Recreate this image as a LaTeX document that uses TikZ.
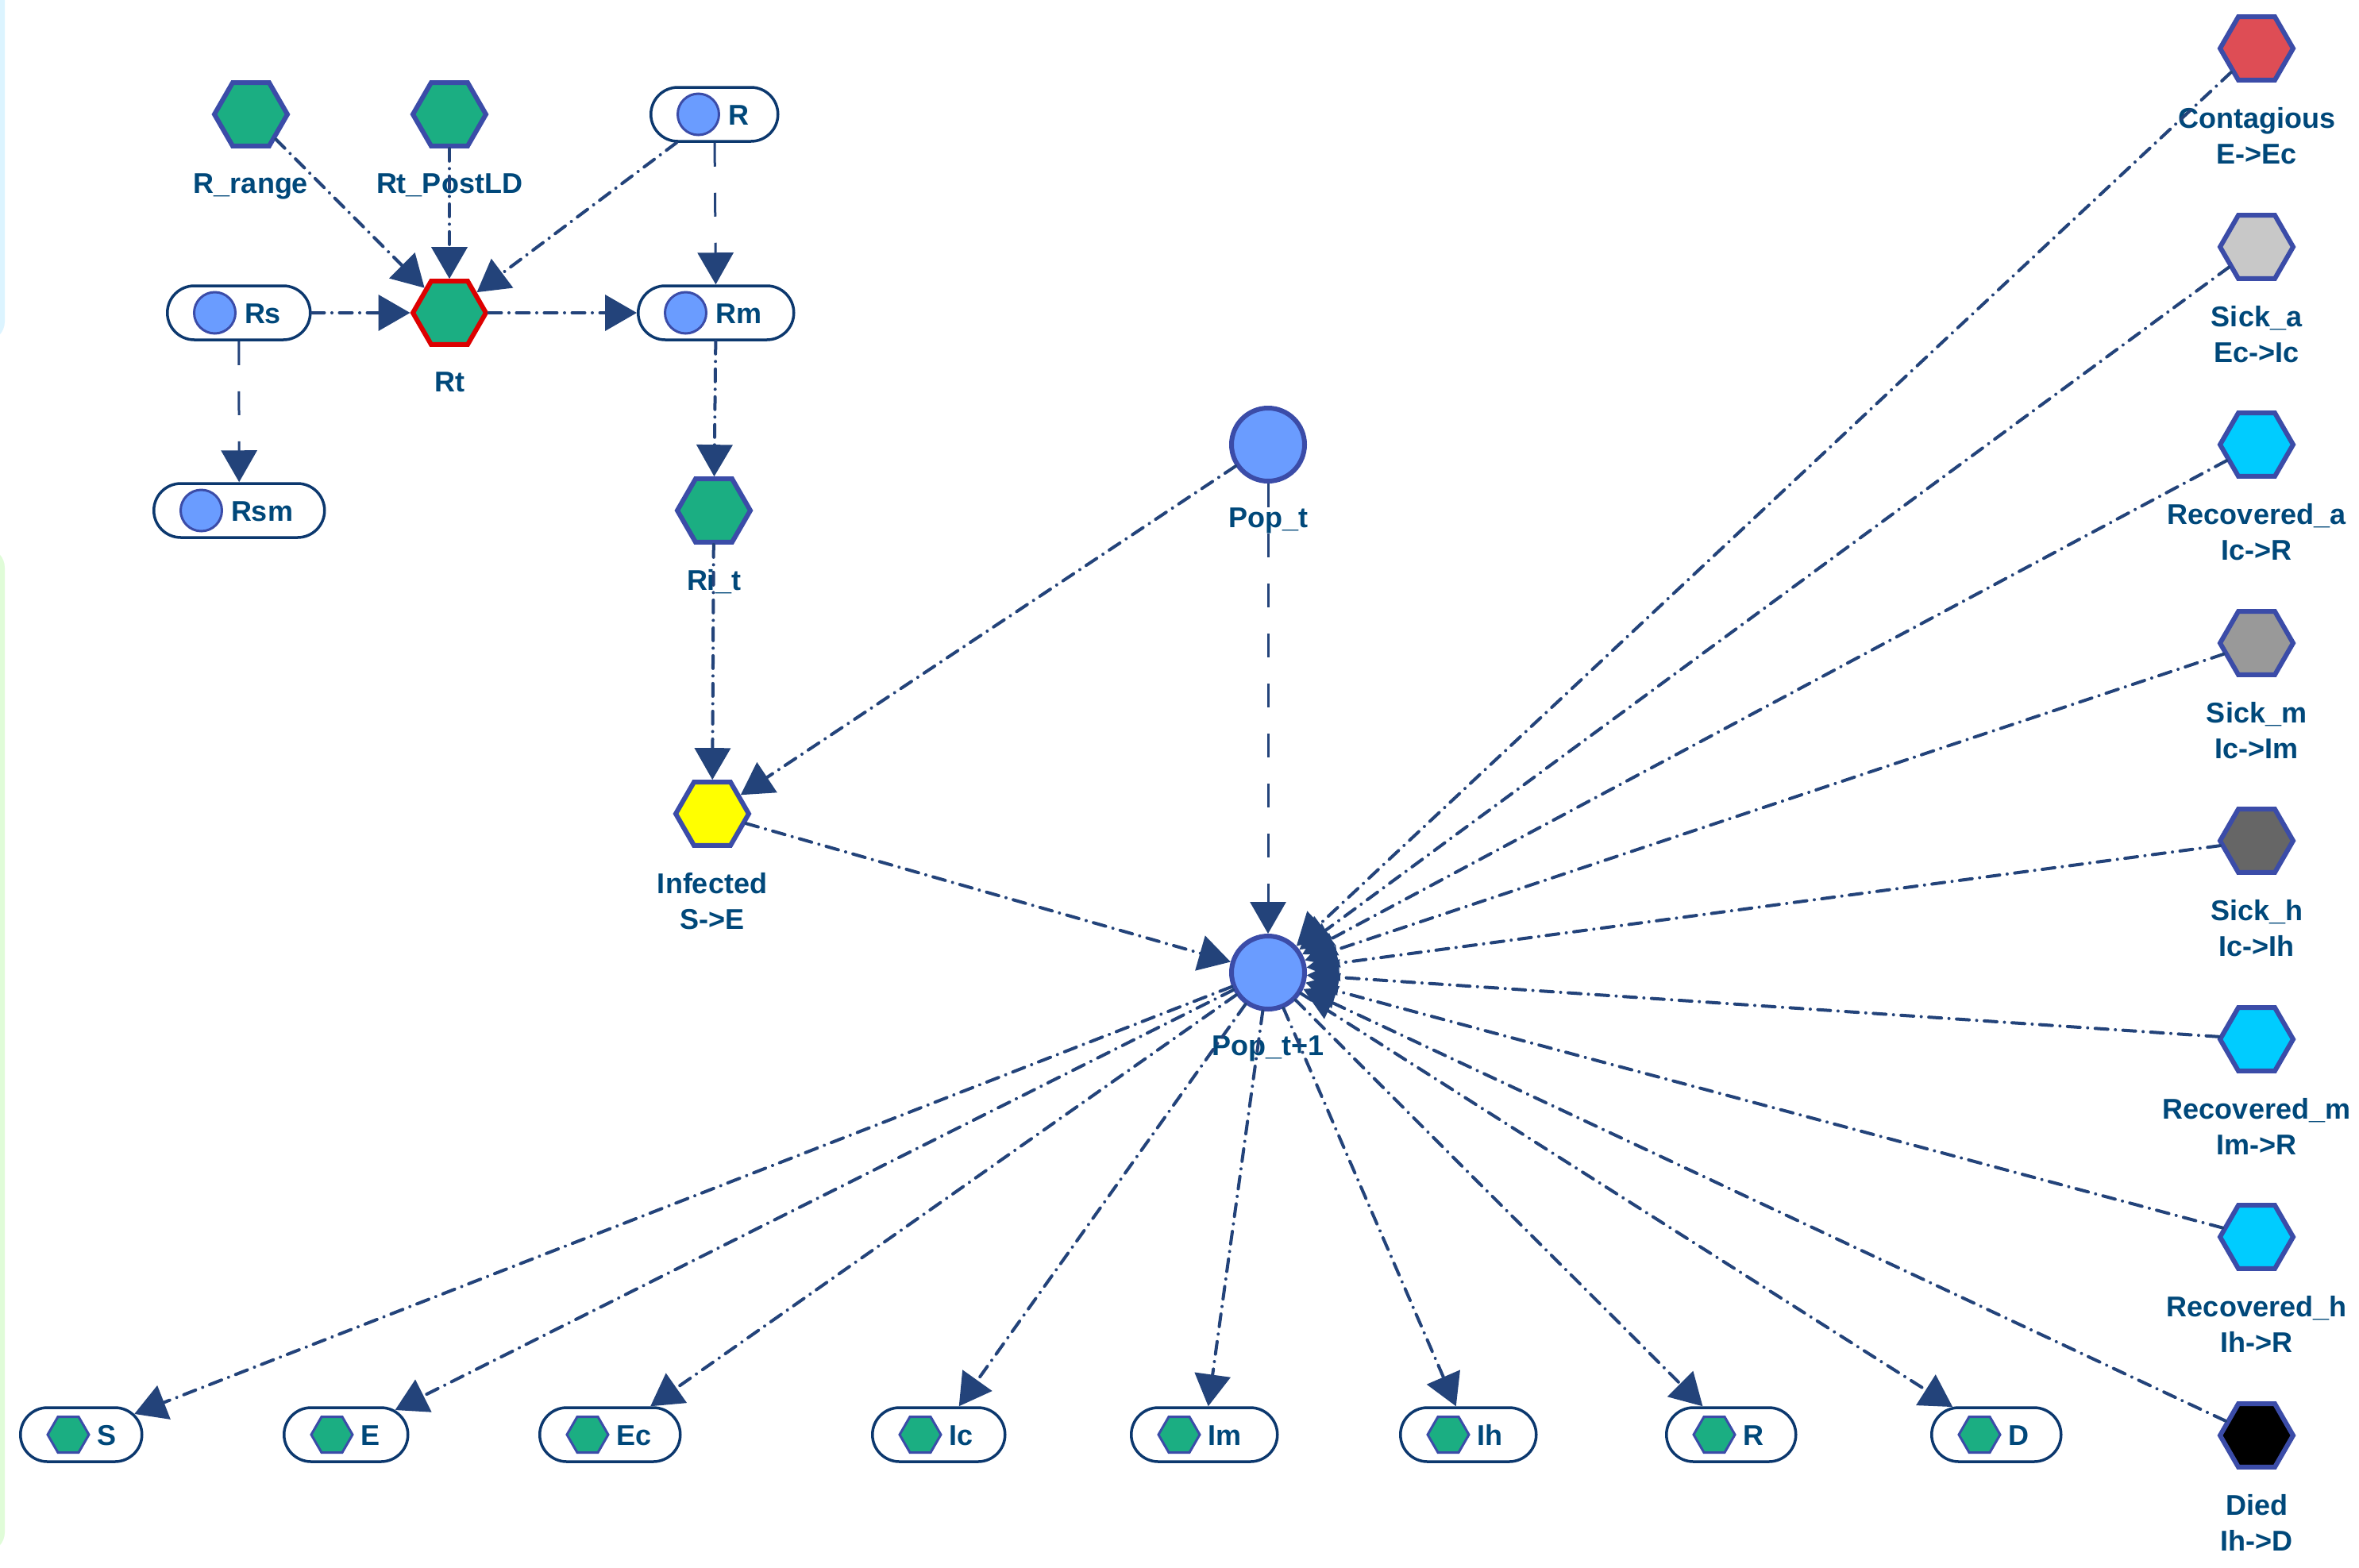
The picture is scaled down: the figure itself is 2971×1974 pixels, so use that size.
\documentclass[tikz,border=0pt]{standalone}
\usepackage{fontspec}
\setmainfont{Liberation Sans}
\usetikzlibrary{arrows.meta,shapes.geometric,shapes.misc}
\definecolor{edgecol}{RGB}{35,67,122}
\definecolor{hexborder}{RGB}{59,76,168}
\definecolor{hexgreen}{RGB}{27,174,130}
\definecolor{circfill}{RGB}{106,156,255}
\definecolor{labcol}{RGB}{0,72,122}
\definecolor{pillborder}{RGB}{12,56,110}
\definecolor{contred}{RGB}{222,77,85}
\definecolor{grayA}{RGB}{200,200,200}
\definecolor{grayM}{RGB}{153,153,153}
\definecolor{grayH}{RGB}{102,102,102}
\definecolor{reccyan}{RGB}{0,204,255}
\definecolor{rtred}{RGB}{221,0,0}
\definecolor{infyellow}{RGB}{255,255,0}
\definecolor{bgblue}{RGB}{220,244,255}
\definecolor{bggreen}{RGB}{224,252,216}
\newcommand\labfont{\fontsize{36}{45}\selectfont\bfseries}
\begin{document}
\begin{tikzpicture}[x=1pt,y=-1pt,
  hexbig/.style={regular polygon, regular polygon sides=6, minimum size=92pt, inner sep=0pt, line width=6pt, draw=hexborder, fill=hexgreen},
  bigcirc/.style={circle, minimum size=92pt, inner sep=0pt, line width=6pt, draw=hexborder, fill=circfill},
  lab/.style={font=\labfont, text=labcol, align=center, inner sep=0pt, outer sep=0pt, label distance=32pt},
  pillbox/.style={rounded rectangle, draw=pillborder, fill=white, line width=3.5pt, minimum height=68pt, minimum width=#1, inner sep=0pt, anchor=west},
  pilltext/.style={font=\labfont, text=labcol, inner sep=0pt, outer sep=0pt, text height=26pt, text depth=0pt, anchor=west},
  pillcirc/.style={circle, minimum size=52pt, inner sep=0pt, line width=3pt, draw=hexborder, fill=circfill},
  pillhex/.style={regular polygon, regular polygon sides=6, minimum size=52pt, inner sep=0pt, line width=3pt, draw=hexborder, fill=hexgreen},
  ddot/.style={draw=edgecol, line width=4pt, dash pattern=on 16pt off 9.5pt on 0.01pt off 9.5pt, line cap=round, -{Triangle[length=40pt,width=45pt]}},
  ldash/.style={draw=edgecol, line width=3pt, dash pattern=on 30pt off 33pt, -{Triangle[length=40pt,width=45pt]}}
]
\useasboundingbox (0,0) rectangle (2971,1974);
\fill[white] (0,0) rectangle (2971,1974);
\begin{scope}
  \clip (0,0) rectangle (2971,1974);
  \fill[bgblue, rounded corners=25pt] (-200,-60) rectangle (6,430);
  \fill[bggreen, rounded corners=25pt] (-200,690) rectangle (6,1955);
\end{scope}

% main nodes
\node[hexbig, label={[lab]below:R\_range}] (Rrange) at (316,144) {};
\node[hexbig, label={[lab]below:Rt\_PostLD}] (RtPostLD) at (566,144) {};
\node[hexbig, draw=rtred, label={[lab]below:Rt}] (Rt) at (566,394) {};
\node[hexbig, label={[lab]below:Ri\_t}] (Rit) at (899,643) {};
\node[hexbig, fill=infyellow, label={[lab]below:{Infected\\S->E}}] (Inf) at (897,1025) {};
\node[bigcirc, label={[lab,label distance=31pt]below:Pop\_t}] (Popt) at (1597,560) {};
\node[bigcirc, label={[lab,label distance=31pt]below:Pop\_t+1}] (Popt1) at (1597,1225) {};

% pills with circles
\node[pillbox=160pt] (R) at (818,144) {};
\node[pillcirc] (Ricon) at ([xshift=61.5pt]R.west) {};
\node[pilltext] (Rtxt) at ([xshift=99pt]R.west) {R};
\node[pillbox=180pt] (Rs) at (209,394) {};
\node[pillcirc] (Rsicon) at ([xshift=61.5pt]Rs.west) {};
\node[pilltext] (Rstxt) at ([xshift=99pt]Rs.west) {Rs};
\node[pillbox=196pt] (Rm) at (802,394) {};
\node[pillcirc] (Rmicon) at ([xshift=61.5pt]Rm.west) {};
\node[pilltext] (Rmtxt) at ([xshift=99pt]Rm.west) {Rm};
\node[pillbox=215pt] (Rsm) at (192,643) {};
\node[pillcirc] (Rsmicon) at ([xshift=61.5pt]Rsm.west) {};
\node[pilltext] (Rsmtxt) at ([xshift=99pt]Rsm.west) {Rsm};

% bottom pills with hexagons
\node[pillbox=153pt] (S) at (24,1807) {};
\node[pillhex] (Sicon) at ([xshift=62pt]S.west) {};
\node[pilltext] (Stxt) at ([xshift=98pt]S.west) {S};
\node[pillbox=156pt] (E) at (356,1807) {};
\node[pillhex] (Eicon) at ([xshift=62pt]E.west) {};
\node[pilltext] (Etxt) at ([xshift=98pt]E.west) {E};
\node[pillbox=177pt] (Ec) at (678,1807) {};
\node[pillhex] (Ecicon) at ([xshift=62pt]Ec.west) {};
\node[pilltext] (Ectxt) at ([xshift=98pt]Ec.west) {Ec};
\node[pillbox=167pt] (Ic) at (1097,1807) {};
\node[pillhex] (Icicon) at ([xshift=62pt]Ic.west) {};
\node[pilltext] (Ictxt) at ([xshift=98pt]Ic.west) {Ic};
\node[pillbox=184pt] (Im) at (1423,1807) {};
\node[pillhex] (Imicon) at ([xshift=62pt]Im.west) {};
\node[pilltext] (Imtxt) at ([xshift=98pt]Im.west) {Im};
\node[pillbox=171pt] (Ih) at (1762,1807) {};
\node[pillhex] (Ihicon) at ([xshift=62pt]Ih.west) {};
\node[pilltext] (Ihtxt) at ([xshift=98pt]Ih.west) {Ih};
\node[pillbox=163pt] (Rb) at (2097,1807) {};
\node[pillhex] (Rbicon) at ([xshift=62pt]Rb.west) {};
\node[pilltext] (Rbtxt) at ([xshift=98pt]Rb.west) {R};
\node[pillbox=163pt] (D) at (2431,1807) {};
\node[pillhex] (Dicon) at ([xshift=62pt]D.west) {};
\node[pilltext] (Dtxt) at ([xshift=98pt]D.west) {D};

% right column
\node[hexbig, fill=contred, label={[lab]below:{Contagious\\E->Ec}}] (Cont) at (2842,61) {};
\node[hexbig, fill=grayA, label={[lab]below:{Sick\_a\\Ec->Ic}}] (Sicka) at (2842,311) {};
\node[hexbig, fill=reccyan, label={[lab]below:{Recovered\_a\\Ic->R}}] (Reca) at (2842,560) {};
\node[hexbig, fill=grayM, label={[lab]below:{Sick\_m\\Ic->Im}}] (Sickm) at (2842,810) {};
\node[hexbig, fill=grayH, label={[lab]below:{Sick\_h\\Ic->Ih}}] (Sickh) at (2842,1059) {};
\node[hexbig, fill=reccyan, label={[lab]below:{Recovered\_m\\Im->R}}] (Recm) at (2842,1309) {};
\node[hexbig, fill=reccyan, label={[lab]below:{Recovered\_h\\Ih->R}}] (Rech) at (2842,1558) {};
\node[hexbig, fill=black, label={[lab]below:{Died\\Ih->D}}] (Died) at (2842,1808) {};

% edges
\draw[ddot] (Rrange) -- (Rt);
\draw[ddot] (RtPostLD) -- (Rt);
\draw[ddot] (R) -- (Rt);
\draw[ddot] (Rs) -- (Rt);
\draw[ddot] (Rt) -- (Rm);
\draw[ldash] (R) -- (Rm);
\draw[ldash] (Rs) -- (Rsm);
\draw[ddot] (Rm) -- (Rit);
\draw[ddot] (Rit) -- (Inf);
\draw[ddot] (Popt) -- (Inf);
\draw[ldash] (Popt) -- (Popt1);
\draw[ddot] (Inf) -- (Popt1);
\foreach \n in {Cont,Sicka,Reca,Sickm,Sickh,Recm,Rech,Died}
  \draw[ddot] (\n) -- (Popt1);
\foreach \n in {S,E,Ec,Ic,Im,Ih,Rb,D}
  \draw[ddot] (Popt1) -- (\n);
\end{tikzpicture}
\end{document}
